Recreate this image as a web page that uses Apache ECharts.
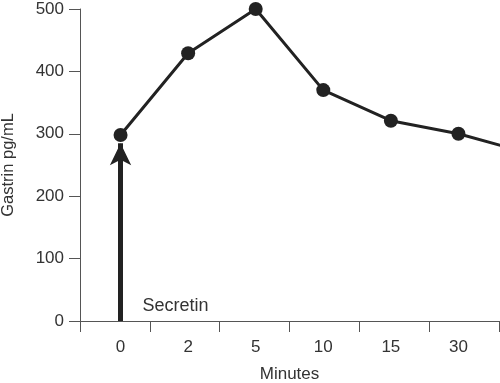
<!DOCTYPE html>
<html>
<head>
<meta charset="utf-8">
<script src="https://cdn.jsdelivr.net/npm/echarts@6/dist/echarts.min.js"></script>
<style>html,body{margin:0;padding:0;background:#fff}#c{width:500px;height:383px}</style>
</head>
<body>
<div id="c"></div>
<script>
const categories = ['0', '2', '5', '10', '15', '30'];
const gastrin = [298, 429, 500, 370, 321, 300];
const tailValue = 270; // line continues past the last reading
const yTicks = [0, 100, 200, 300, 400, 500];
const secretinTip = 285;
const secretinLabelValue = 24;

const ink = '#222';
const textColor = '#333';
const font = 'Liberation Sans, Arial, sans-serif';

const lineData = gastrin.map((v, i) => [i, v]);
lineData.push({ value: [categories.length, tailValue], symbol: 'none' });

const catLabel = v => {
  const i = Math.round(v);
  return (Math.abs(v - i) < 1e-6 && categories[i] !== undefined) ? categories[i] : '';
};

const chart = echarts.init(document.getElementById('c'), null, { renderer: 'canvas' });
chart.setOption({
  animation: false,
  backgroundColor: '#fff',
  grid: { left: 80, right: 1, top: 9, bottom: 62, containLabel: false, outerBoundsMode: 'none' },
  xAxis: [
    {
      type: 'category',
      data: categories,
      boundaryGap: true,
      axisLine: { show: true, onZero: false, lineStyle: { color: '#555', width: 1 } },
      axisTick: { show: true, length: 11, lineStyle: { color: '#555' } },
      axisLabel: { show: false },
      splitLine: { show: false }
    },
    {
      type: 'value',
      min: -0.6,
      max: 5.6,
      interval: 0.2,
      position: 'bottom',
      axisLine: { show: false, onZero: false },
      axisTick: { show: false },
      splitLine: { show: false },
      axisLabel: {
        show: true,
        showMinLabel: false,
        showMaxLabel: false,
        margin: 18,
        color: textColor,
        fontFamily: font,
        fontSize: 17,
        formatter: catLabel
      },
      name: 'Minutes',
      nameLocation: 'middle',
      nameGap: 45,
      nameTextStyle: { color: textColor, fontFamily: font, fontSize: 17 }
    }
  ],
  yAxis: {
    type: 'value',
    min: yTicks[0],
    max: yTicks[yTicks.length - 1],
    interval: 100,
    axisLine: { show: true, onZero: false, lineStyle: { color: '#555', width: 1 } },
    axisTick: { show: true, length: 11, lineStyle: { color: '#555' } },
    splitLine: { show: false },
    axisLabel: { color: textColor, fontFamily: font, fontSize: 17, margin: 16 },
    name: 'Gastrin pg/mL',
    nameLocation: 'middle',
    nameGap: 63,
    nameRotate: 90,
    nameTextStyle: { color: textColor, fontFamily: font, fontSize: 16.5 }
  },
  series: [
    {
      type: 'line',
      xAxisIndex: 1,
      data: lineData,
      symbol: 'circle',
      symbolSize: 14,
      clip: true,
      lineStyle: { color: ink, width: 3 },
      itemStyle: { color: ink },
      z: 3,
      markLine: {
        silent: true,
        symbol: ['none', 'arrow'],
        symbolSize: [16, 22],
        lineStyle: { color: ink, width: 5, type: 'solid' },
        label: { show: false },
        data: [[{ coord: [0, 0] }, { coord: [0, secretinTip] }]]
      },
      markPoint: {
        silent: true,
        symbol: 'circle',
        symbolSize: 0,
        data: [{ coord: [0, secretinLabelValue] }],
        label: {
          show: true,
          position: 'right',
          distance: 22,
          formatter: 'Secretin',
          color: textColor,
          fontFamily: font,
          fontSize: 18
        }
      }
    }
  ]
});
</script>
</body>
</html>
